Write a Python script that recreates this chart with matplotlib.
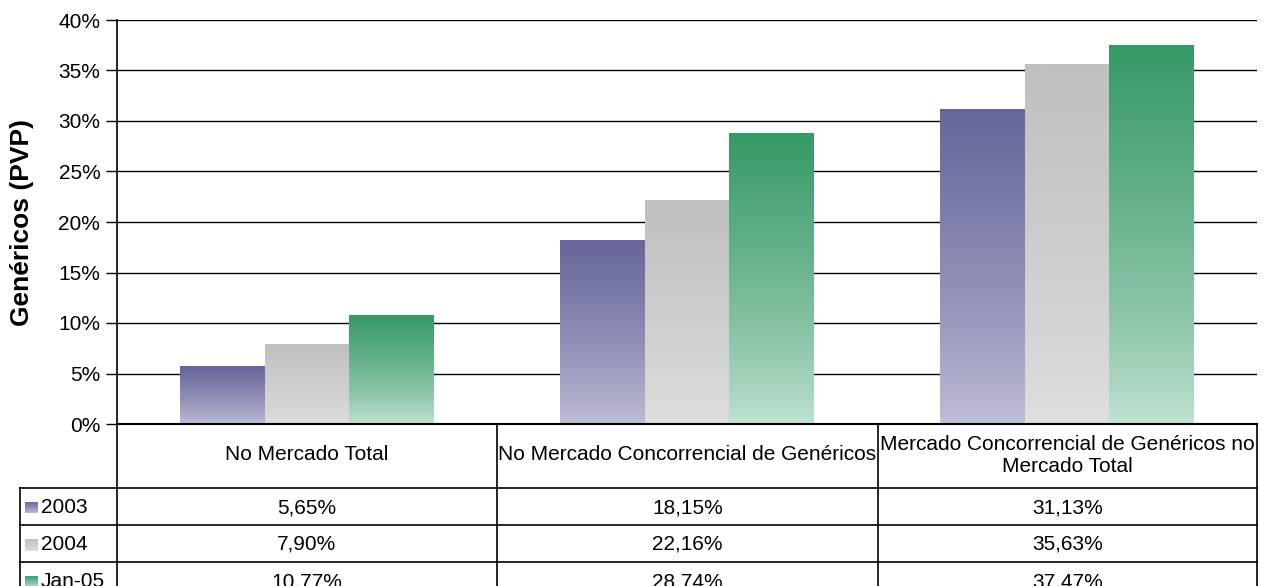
import numpy as np
import matplotlib
matplotlib.use("Agg")
import matplotlib.pyplot as plt
from matplotlib.colors import to_rgb
from matplotlib.lines import Line2D

plt.rcParams['font.family'] = ['Liberation Sans', 'DejaVu Sans']

categories = ["No Mercado Total",
              "No Mercado Concorrencial de Genéricos",
              "Mercado Concorrencial de Genéricos no\nMercado Total"]
series = ["2003", "2004", "Jan-05"]
v2003 = [5.65, 18.15, 31.13]
v2004 = [7.90, 22.16, 35.63]
vjan05 = [10.77, 28.74, 37.47]
labels_2003 = ["5,65%", "18,15%", "31,13%"]
labels_2004 = ["7,90%", "22,16%", "35,63%"]
labels_jan05 = ["10,77%", "28,74%", "37,47%"]
yticks = [0, 5, 10, 15, 20, 25, 30, 35, 40]

values = [v2003, v2004, vjan05]
texts = [labels_2003, labels_2004, labels_jan05]
# (top colour, bottom colour) for each series
colours = [("#66669A", "#C2C2DA"), ("#C0C0C0", "#E0E0E0"), ("#369966", "#C6E4D6")]

FS = 15
W, H = 1264, 586
fig = plt.figure(figsize=(W / 100, H / 100), dpi=100)
left, right, top, bottom = 117, 1257, 20, 424
ax = fig.add_axes([left / W, 1 - bottom / H, (right - left) / W, (bottom - top) / H])


def gradient_img(c_top, c_bot, n=256):
    t = np.linspace(0, 1, n)[:, None]  # 0 = bottom, 1 = top
    t = t ** 0.75
    a = np.array(to_rgb(c_bot))
    b = np.array(to_rgb(c_top))
    return (a + (b - a) * t[..., None]).reshape(n, 1, 3)


bar_w = 0.222
for si, vals in enumerate(values):
    img = gradient_img(*colours[si])
    for ci, v in enumerate(vals):
        x0 = ci + (si - 1.5) * bar_w
        ax.imshow(img, extent=(x0, x0 + bar_w, 0, v), origin='lower',
                  aspect='auto', zorder=2, interpolation='bilinear')

ax.set_xlim(-0.5, 2.5)
ax.set_ylim(0, 40)
ax.set_yticks(yticks)
ax.set_yticklabels([f"{t}%" for t in yticks], fontsize=FS)
ax.set_xticks([])
ax.yaxis.grid(True, color='black', linewidth=1, zorder=1)
ax.set_axisbelow(True)
for s in ['top', 'right']:
    ax.spines[s].set_visible(False)
ax.spines['left'].set_linewidth(1.2)
ax.spines['bottom'].set_linewidth(1.5)
ax.tick_params(axis='y', length=8, width=1, direction='out', pad=4)
ax.set_ylabel("Genéricos (PVP)", fontsize=19, fontweight='bold')
ax.yaxis.set_label_coords((34 - left) / (right - left), 0.5)


# data table below the axes, drawn in pixel coordinates
def px(x, y):
    return x / W, 1 - y / H

def hline(y, x0, x1):
    fig.add_artist(Line2D([x0 / W, x1 / W], [1 - y / H, 1 - y / H], color='black', lw=1.2))

def vline(x, y0, y1):
    fig.add_artist(Line2D([x / W, x / W], [1 - y0 / H, 1 - y1 / H], color='black', lw=1.2))

col_edges = [117, 497, 878, 1257]
row_edges = [424, 488, 525, 562, 599]
for x in col_edges:
    vline(x, 424, 599)
vline(20, 488, 599)
for y in row_edges[1:4]:
    hline(y, 20, 1257)

for ci, cat in enumerate(categories):
    fig.text(*px((col_edges[ci] + col_edges[ci + 1]) / 2, 455), cat, ha='center', va='center',
             fontsize=FS, linespacing=1.2)

for si in range(3):
    yc = (row_edges[si + 1] + row_edges[si + 2]) / 2 + 1
    for ci in range(3):
        fig.text(*px((col_edges[ci] + col_edges[ci + 1]) / 2, yc), texts[si][ci],
                 ha='center', va='center', fontsize=FS)
    # legend key with gradient
    kax = fig.add_axes([25 / W, 1 - (yc + 6) / H, 13 / W, 12 / H])
    kax.imshow(gradient_img(*colours[si]), origin='lower', aspect='auto', extent=(0, 1, 0, 1))
    kax.axis('off')
    fig.text(*px(41, yc), series[si], ha='left', va='center', fontsize=FS)

fig.savefig("out.png", dpi=100)
